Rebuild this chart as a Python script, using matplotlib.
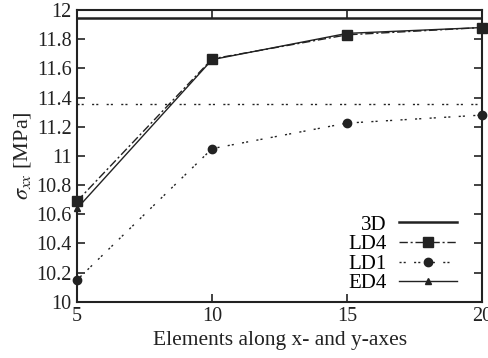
import matplotlib
matplotlib.use('Agg')
import matplotlib.pyplot as plt

plt.rcParams['font.family'] = ['Liberation Serif', 'DejaVu Serif']
plt.rcParams['mathtext.fontset'] = 'stix'

# elementi lungo x e y
elems = [5, 10, 15, 20]
s_3d = [11.945, 11.945, 11.945, 11.945]
s_ld4 = [10.69, 11.665, 11.83, 11.88]
s_ld1 = [10.15, 11.05, 11.225, 11.28]
s_ed4 = [10.64, 11.66, 11.84, 11.88]
s_ref = [11.355, 11.355, 11.355, 11.355]

fig = plt.figure(figsize=(4.88, 3.58), dpi=100)
ax = fig.add_axes([0.158, 0.157, 0.83, 0.815])

dots = (0, (1.5, 1.5, 1.5, 6))
ax.plot(elems, s_3d, color='#222222', lw=1.8, label='3D')
ax.plot(elems, s_ld4, color='#222222', lw=1.0, ls=(0, (6, 2, 1.5, 2)),
        marker='s', ms=7, label='LD4', clip_on=False)
ax.plot(elems, s_ld1, color='#222222', lw=1.0, ls=dots,
        marker='o', ms=6, label='LD1', clip_on=False)
ax.plot(elems, s_ed4, color='#222222', lw=1.0, ls='-',
        marker='^', ms=5, label='ED4', clip_on=False)
ax.plot(elems, s_ref, color='#222222', lw=1.0, ls=dots)

ax.set_xlim(5, 20)
ax.set_ylim(10, 12)
ax.set_xticks([5, 10, 15, 20])
ax.set_yticks([10, 10.2, 10.4, 10.6, 10.8, 11, 11.2, 11.4, 11.6, 11.8, 12])
ax.set_yticklabels(['10', '10.2', '10.4', '10.6', '10.8', '11', '11.2',
                    '11.4', '11.6', '11.8', '12'])
ax.tick_params(direction='in', top=True, right=True, length=6, width=1.2,
               labelsize=14.5, colors='#222222', pad=4)
for s in ax.spines.values():
    s.set_linewidth(1.5)
    s.set_color('#222222')

ax.set_xlabel('Elements along x- and y-axes', fontsize=15.5, color='#222222',
              labelpad=3)
ax.set_ylabel(r'$\sigma_{xx}$ [MPa]', fontsize=16, color='#222222', labelpad=2)

ax.legend(loc='lower right', bbox_to_anchor=(0.959, 0.0), frameon=False,
          markerfirst=False, fontsize=15, handlelength=2.8, labelspacing=0.0,
          borderaxespad=0, handletextpad=0.58)

fig.savefig('out.png', dpi=100)
